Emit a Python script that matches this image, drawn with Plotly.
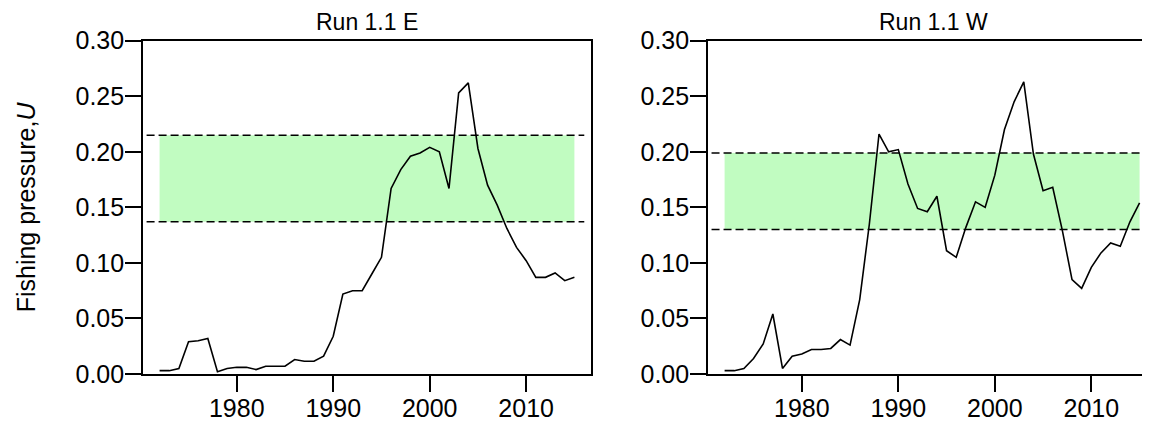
import plotly.graph_objects as go

years = list(range(1972, 2016))

u_east = [0.003, 0.003, 0.005, 0.029, 0.030, 0.032, 0.002, 0.005, 0.006, 0.006,
          0.004, 0.007, 0.007, 0.007, 0.013, 0.0115, 0.0115, 0.016, 0.034, 0.072,
          0.075, 0.075, 0.090, 0.105, 0.167, 0.184, 0.196, 0.199, 0.204, 0.200,
          0.167, 0.253, 0.262, 0.203, 0.170, 0.152, 0.131, 0.114, 0.102, 0.087,
          0.087, 0.091, 0.084, 0.087]

u_west = [0.003, 0.003, 0.005, 0.014, 0.027, 0.054, 0.005, 0.016, 0.018, 0.022,
          0.022, 0.023, 0.031, 0.026, 0.067, 0.135, 0.216, 0.200, 0.202, 0.171,
          0.149, 0.146, 0.160, 0.111, 0.105, 0.132, 0.155, 0.150, 0.179, 0.220,
          0.245, 0.263, 0.198, 0.165, 0.168, 0.129, 0.085, 0.077, 0.096, 0.109,
          0.118, 0.115, 0.137, 0.154]

band_east = [0.137, 0.215]
band_west = [0.130, 0.199]

titles = ["Run 1.1 E", "Run 1.1 W"]
x_ticks = [1980, 1990, 2000, 2010]
y_ticks = [0.00, 0.05, 0.10, 0.15, 0.20, 0.25, 0.30]
y_label = "Fishing pressure,<i>U</i>"

# the page body has an 8px margin, so the figure is drawn at (8, 8)
OFF = 8
W, H = 1150 - OFF, 421 - OFF
FONT = "Liberation Sans, Arial, sans-serif"
GREEN = "rgb(193,252,193)"


def px_x(p):
    return (p - OFF) / W


def px_y(p):
    return 1 - (p - OFF) / H


fig = go.Figure()

fig.add_trace(go.Scatter(x=years, y=u_east, mode="lines", xaxis="x", yaxis="y",
                         line=dict(color="black", width=1.6), showlegend=False))
fig.add_trace(go.Scatter(x=years, y=u_west, mode="lines", xaxis="x2", yaxis="y2",
                         line=dict(color="black", width=1.6), showlegend=False))

shapes = []
for xr, yr, band, x_lo, x_hi in [("x", "y", band_east, 0.008, 0.985),
                                  ("x2", "y2", band_west, 0.008, 1.0)]:
    shapes.append(dict(type="rect", xref=xr, yref=yr, x0=years[0], x1=years[-1],
                       y0=band[0], y1=band[1], fillcolor=GREEN,
                       line=dict(width=0), layer="below"))
    for b in band:
        shapes.append(dict(type="line", xref=xr + " domain", yref=yr, x0=x_lo, x1=x_hi,
                           y0=b, y1=b, line=dict(color="black", width=1.5, dash="8px,4px")))

y_dom = [px_y(374), px_y(40.7)]
tickfont = dict(family=FONT, size=25, color="black")

common_x = dict(tickmode="array", tickvals=x_ticks, ticks="outside", ticklen=16,
                tickwidth=1.5, tickcolor="black", showline=True, linecolor="black",
                linewidth=1.6, showgrid=False, zeroline=False, tickfont=tickfont,
                automargin=False, ticklabelstandoff=-5)
common_y = dict(range=[0, 0.30], tickmode="array", tickvals=y_ticks, tickformat=".2f",
                ticks="outside", ticklen=16, tickwidth=1.5, tickcolor="black",
                showline=True, linecolor="black", linewidth=1.6, showgrid=False,
                zeroline=False, tickfont=tickfont, domain=y_dom, automargin=False,
                ticklabelstandoff=-4)

fig.update_layout(
    width=W, height=H,
    margin=dict(l=0, r=0, t=0, b=0),
    paper_bgcolor="white", plot_bgcolor="white",
    font=dict(family=FONT, color="black"),
    xaxis=dict(**common_x, domain=[px_x(143), px_x(591)], range=[1970.28, 2016.72],
               anchor="y", mirror=True),
    yaxis=dict(**common_y, anchor="x", mirror=True),
    xaxis2=dict(**common_x, domain=[px_x(708), 1.0], range=[1970.28, 2016.08],
                anchor="y2", mirror=True),
    yaxis2=dict(**common_y, anchor="x2", mirror=False),
    shapes=shapes,
    annotations=[
        dict(text=titles[0], x=px_x(367), y=1.0, xref="paper", yref="paper",
             showarrow=False, xanchor="center", yanchor="top", borderpad=0,
             font=dict(family=FONT, size=23, color="black")),
        dict(text=titles[1], x=px_x(933), y=1.0, xref="paper", yref="paper",
             showarrow=False, xanchor="center", yanchor="top", borderpad=0,
             font=dict(family=FONT, size=23, color="black")),
        dict(text=y_label, x=px_x(26), y=(y_dom[0] + y_dom[1]) / 2, xref="paper",
             yref="paper", showarrow=False, textangle=-90, xanchor="center",
             yanchor="middle", font=dict(family=FONT, size=25, color="black")),
    ],
)

fig.write_html("out.html")
